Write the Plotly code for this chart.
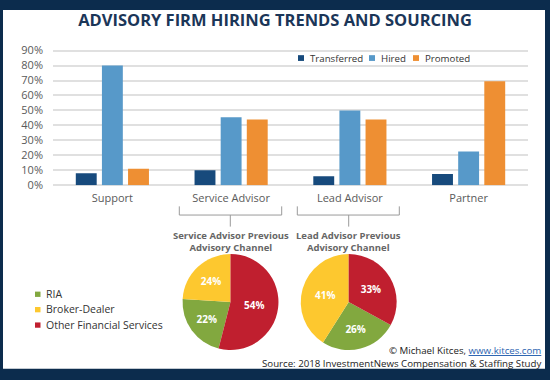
import plotly.graph_objects as go

W, H = 550, 380
def px(x): return x / W
def py(y): return 1 - y / H

# ---- data ----
categories = ["Support", "Service Advisor", "Lead Advisor", "Partner"]
transferred = [8, 10, 6, 7.5]
hired = [80, 45.5, 50, 22.5]
promoted = [11, 44, 44, 69.5]
y_ticks = [0, 10, 20, 30, 40, 50, 60, 70, 80, 90]
y_tick_labels = [f"{v}%" for v in y_ticks]
bar_series = ["Transferred", "Hired", "Promoted"]

pie_labels = ["RIA", "Broker-Dealer", "Other Financial Services"]
service_prev = [22, 24, 54]
lead_prev = [26, 41, 33]

BAR_COLORS = ["#174a7c", "#5799c9", "#ee8f33"]
PIE_COLORS = ["#82a83f", "#fdc82f", "#c01f2f"]
NAVY = "#0c2c4d"
FONT = "Open Sans"

fig = go.Figure()
for name, vals, col in zip(bar_series, [transferred, hired, promoted], BAR_COLORS):
    fig.add_trace(go.Bar(x=categories, y=vals, name=name, marker=dict(color=col, line=dict(width=0)),
                         showlegend=False, hoverinfo="skip"))

def rot(vals):
    return vals[2] / sum(vals) * 360

for vals, cx in [(service_prev, 230.5), (lead_prev, 348.7)]:
    r = 49.8
    cy = 306.3
    fig.add_trace(go.Pie(labels=pie_labels, values=vals, sort=False, direction="clockwise",
                         rotation=rot(vals), marker=dict(colors=PIE_COLORS, line=dict(width=0)),
                         texttemplate="%{value}%", textposition="inside", insidetextorientation="horizontal",
                         textfont=dict(family=FONT, size=10, color="white", weight="bold"),
                         domain=dict(x=[px(cx - r), px(cx + r)], y=[py(cy + r), py(cy - r)]),
                         showlegend=False, hoverinfo="skip"))

shapes = [dict(type="rect", xref="paper", yref="paper", x0=px(3), x1=px(545), y0=py(375.5), y1=py(3),
               fillcolor="white", line=dict(width=0), layer="below")]
for l, r_, stem in [(179.3, 281.7, 230.3), (297.3, 399.3, 348.7)]:
    shapes.append(dict(type="path", xref="paper", yref="paper",
                       path=f"M {px(l)},{py(207)} L {px(l)},{py(216)} L {px(r_)},{py(216)} L {px(r_)},{py(207)}",
                       line=dict(color="#9a9a9a", width=1)))
    shapes.append(dict(type="line", xref="paper", yref="paper", x0=px(stem), x1=px(stem),
                       y0=py(216), y1=py(228), line=dict(color="#9a9a9a", width=1)))

annotations = []

# bar legend (compact, like the reference)
leg_x = [298, 369, 413]
for name, col, lx in zip(bar_series, BAR_COLORS, leg_x):
    shapes.append(dict(type="rect", xref="paper", yref="paper", x0=px(lx), x1=px(lx + 6),
                       y0=py(56), y1=py(50), fillcolor=col, line=dict(width=0)))
    annotations.append(dict(text=name, xref="paper", yref="paper", x=px(lx + 10), y=py(53),
                            xanchor="left", yanchor="middle", showarrow=False,
                            font=dict(family=FONT, size=9.7, color="#333333")))

# pie legend
for i, (name, col) in enumerate(zip(pie_labels, PIE_COLORS)):
    yy = 298 + 16 * i
    shapes.append(dict(type="rect", xref="paper", yref="paper", x0=px(35), x1=px(40.5),
                       y0=py(yy + 3), y1=py(yy - 2.5), fillcolor=col, line=dict(width=0)))
    annotations.append(dict(text=name, xref="paper", yref="paper", x=px(44), y=py(yy),
                            xanchor="left", yanchor="middle", showarrow=False,
                            font=dict(family=FONT, size=10.5, color="#333333")))

for cx, t in [(230.5, "Service Advisor Previous<br>Advisory Channel"), (348.7, "Lead Advisor Previous<br>Advisory Channel")]:
    annotations.append(dict(text=f"<b>{t}</b>", xref="paper", yref="paper", x=px(cx), y=py(243),
                            xanchor="center", yanchor="middle", showarrow=False,
                            font=dict(family=FONT, size=9.5, color="#666666")))
annotations.append(dict(text='© Michael Kitces, <a href="https://www.kitces.com" style="color:#2a63b0;text-decoration:underline">www.kitces.com</a>'
                             '<br>Source: 2018 InvestmentNews Compensation & Staffing Study',
                        xref="paper", yref="paper", x=px(543), y=py(363.3), xanchor="right", yanchor="middle",
                        align="right", showarrow=False, font=dict(family=FONT, size=9.7, color="#222222")))

y0px, unit = 185.0, 139.7 / 90
fig.update_layout(
    width=W, height=H, autosize=False,
    margin=dict(l=0, r=0, t=0, b=0),
    paper_bgcolor=NAVY, plot_bgcolor="white",
    font=dict(family=FONT, color="#555555"),
    title=dict(text="<b>ADVISORY FIRM HIRING TRENDS AND SOURCING</b>", x=0.5, xanchor="center",
               y=py(20.5), yanchor="middle", font=dict(family=FONT, size=16.5, color="#1b3658")),
    barmode="group", bargap=0.34, bargroupgap=0.2,
    xaxis=dict(domain=[px(53), px(528)], showgrid=False, showline=False, ticks="",
               tickfont=dict(size=11, color="#5a5a5a"), ticklabelstandoff=5, fixedrange=True),
    yaxis=dict(domain=[py(y0px), py(y0px - 91 * unit)], range=[0, 91], tickvals=y_ticks,
               ticktext=y_tick_labels, showgrid=True, gridcolor="#e0e0e0", gridwidth=1.5,
               zeroline=True, zerolinecolor="#e0e0e0", zerolinewidth=1.5,
               tickfont=dict(size=11, color="#5a5a5a"), ticks="", ticklabelstandoff=9, fixedrange=True),
    shapes=shapes, annotations=annotations, showlegend=False,
)
fig.write_html("out.html", config={"displayModeBar": False},
               post_script="document.body.style.margin='0';document.body.style.padding='0';")
